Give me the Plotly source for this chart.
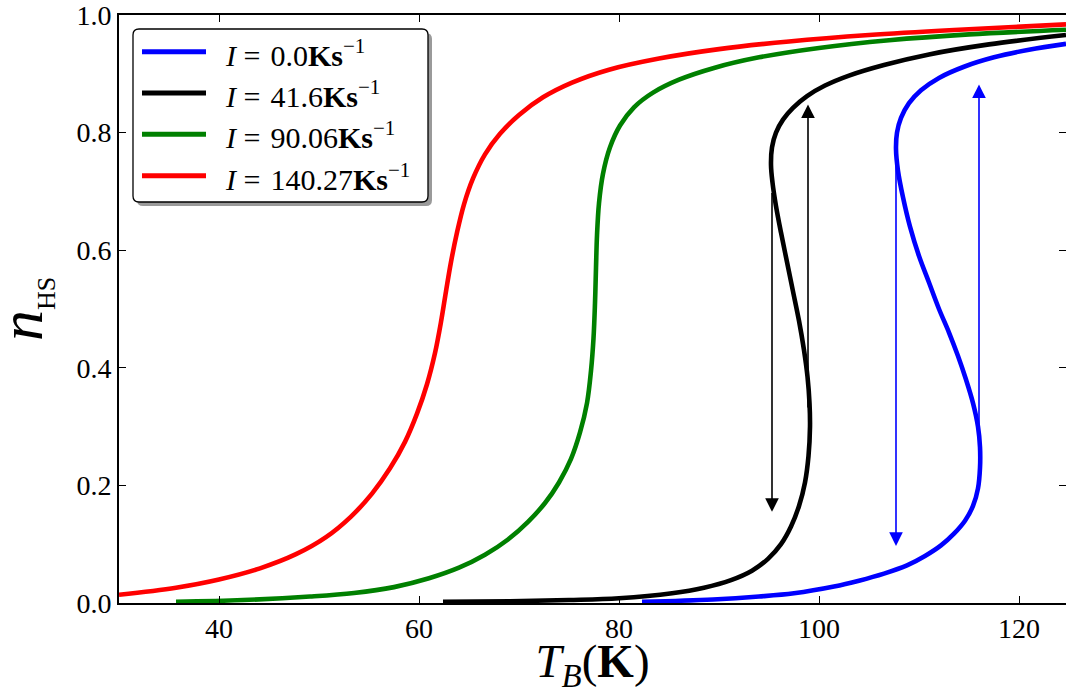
import plotly.graph_objects as go

# ---- data ----
T_blue = [82.3, 89.4, 94.0, 97.5, 101.5, 104.0, 106.5, 108.8, 110.6, 112.2, 113.5, 114.6, 115.4,
          115.9, 116.1, 116.1, 115.9, 115.4, 114.7, 113.9, 113.0, 112.0, 111.0, 110.0, 109.1,
          108.4, 107.9, 107.7, 107.8, 108.2, 109.0, 110.2, 112.0, 114.5, 117.5, 121.0, 124.7]
n_blue = [0.002, 0.006, 0.011, 0.0165, 0.028, 0.038, 0.050, 0.064, 0.080, 0.098, 0.118, 0.140,
          0.165, 0.195, 0.230, 0.265, 0.300, 0.340, 0.380, 0.420, 0.460, 0.500, 0.545, 0.590,
          0.640, 0.690, 0.735, 0.772, 0.800, 0.825, 0.850, 0.872, 0.893, 0.912, 0.928, 0.941,
          0.951]

T_black = [62.4, 69.1, 75.0, 80.0, 85.3, 88.5, 91.2, 93.3, 94.9, 96.2, 97.2, 98.0, 98.6, 98.95,
           99.1, 99.05, 98.85, 98.5, 98.0, 97.4, 96.8, 96.2, 95.7, 95.35, 95.2, 95.3, 95.7, 96.4,
           97.4, 98.8, 100.6, 103.0, 106.5, 111.0, 117.0, 124.7]
n_black = [0.002, 0.003, 0.005, 0.008, 0.0165, 0.026, 0.039, 0.055, 0.075, 0.100, 0.130, 0.165,
           0.205, 0.250, 0.300, 0.340, 0.385, 0.430, 0.480, 0.530, 0.580, 0.630, 0.675, 0.715,
           0.745, 0.775, 0.800, 0.822, 0.842, 0.862, 0.880, 0.897, 0.915, 0.933, 0.950, 0.966]

T_green = [35.7, 42.4, 49.1, 53.5, 57.5, 61.0, 64.0, 66.6, 68.9, 70.9, 72.6, 74.0, 75.2, 76.1,
           76.8, 77.2, 77.45, 77.6, 77.7, 77.8, 78.0, 78.4, 79.1, 80.1, 81.5, 83.4, 86.0, 89.5,
           94.0, 100.0, 107.0, 115.0, 124.7]
n_green = [0.002, 0.005, 0.011, 0.017, 0.027, 0.042, 0.060, 0.082, 0.108, 0.138, 0.170, 0.205,
           0.245, 0.290, 0.340, 0.395, 0.450, 0.510, 0.570, 0.625, 0.680, 0.730, 0.775, 0.812,
           0.843, 0.868, 0.890, 0.910, 0.928, 0.944, 0.957, 0.967, 0.975]

T_red = [30.0, 35.7, 40.0, 44.1, 47.7, 50.7, 53.2, 55.3, 57.1, 58.6, 59.8, 60.8, 61.6, 62.2,
         62.7, 63.2, 63.8, 64.5, 65.4, 66.6, 68.1, 70.0, 72.4, 75.3, 79.0, 84.0, 90.0, 97.0,
         105.0, 114.0, 124.7]
n_red = [0.014, 0.026, 0.040, 0.059, 0.083, 0.112, 0.147, 0.186, 0.229, 0.274, 0.322, 0.372,
         0.425, 0.478, 0.530, 0.580, 0.630, 0.678, 0.722, 0.763, 0.798, 0.830, 0.860, 0.885,
         0.907, 0.926, 0.942, 0.955, 0.966, 0.975, 0.984]

series_names = ["<i>I</i>\u2005=\u20040.0<b>Ks</b><sup>−1</sup>",
                "<i>I</i>\u2005=\u200441.6<b>Ks</b><sup>−1</sup>",
                "<i>I</i>\u2005=\u200490.06<b>Ks</b><sup>−1</sup>",
                "<i>I</i>\u2005=\u2004140.27<b>Ks</b><sup>−1</sup>"]
series_colors = ["#0000ff", "#000000", "#008000", "#ff0000"]

# hysteresis jump arrows: T position, start n, end n, colour
arrow_T = [95.3, 98.9, 107.7, 116.0]
arrow_from = [0.70, 0.33, 0.77, 0.27]
arrow_to = [0.155, 0.848, 0.097, 0.882]
arrow_colors = ["#000000", "#000000", "#0000ff", "#0000ff"]

x_ticks = [40, 60, 80, 100, 120]
y_ticks = [0.0, 0.2, 0.4, 0.6, 0.8, 1.0]
y_ticklabels = ["0.0", "0.2", "0.4", "0.6", "0.8", "1.0"]

FONT = "Liberation Serif"
W, H = 1066, 694
ML, MR, MT, MB = 119, 0, 15, 91
PW, PH = W - ML - MR, H - MT - MB

fig = go.Figure()
all_T = [T_blue, T_black, T_green, T_red]
all_n = [n_blue, n_black, n_green, n_red]
for T, n, nm, c in zip(all_T, all_n, series_names, series_colors):
    fig.add_trace(go.Scatter(x=T, y=n, mode="lines", name=nm, showlegend=False,
                             line=dict(color=c, width=4.6, shape="spline", smoothing=1.0),
                             hoverinfo="skip"))

# arrows
for t, a, b, c in zip(arrow_T, arrow_from, arrow_to, arrow_colors):
    fig.add_annotation(x=t, y=b, ax=t, ay=a, xref="x", yref="y", axref="x", ayref="y",
                       text="", showarrow=True, arrowhead=2, arrowsize=1.7, arrowwidth=1.6,
                       arrowcolor=c, standoff=0)

# ---- manual legend (rounded box with shadow) ----
def px2paper(px, py):
    return (px - ML) / PW, (H - MB - py) / PH

def rounded_path(x0, y0, x1, y1, r):
    def P(px, py):
        X, Y = px2paper(px, py)
        return f"{X:.5f},{Y:.5f}"
    return (f"M{P(x0 + r, y0)} L{P(x1 - r, y0)} Q{P(x1, y0)} {P(x1, y0 + r)} "
            f"L{P(x1, y1 - r)} Q{P(x1, y1)} {P(x1 - r, y1)} L{P(x0 + r, y1)} "
            f"Q{P(x0, y1)} {P(x0, y1 - r)} L{P(x0, y0 + r)} Q{P(x0, y0)} {P(x0 + r, y0)} Z")

bx0, by0, bx1, by1 = 133, 29, 428, 202
fig.add_shape(type="path", xref="paper", yref="paper",
              path=rounded_path(bx0 + 4, by0 + 4, bx1 + 4, by1 + 4, 6),
              fillcolor="#9a9a9a", line=dict(width=0), layer="above")
fig.add_shape(type="path", xref="paper", yref="paper",
              path=rounded_path(bx0, by0, bx1, by1, 6),
              fillcolor="white", line=dict(color="black", width=1.3), layer="above")
row_y = [51.7, 93.0, 134.3, 175.7]
for ry, nm, c in zip(row_y, series_names, series_colors):
    xa, ya = px2paper(142, ry)
    xb, _ = px2paper(206, ry)
    fig.add_shape(type="line", xref="paper", yref="paper", x0=xa, x1=xb, y0=ya, y1=ya,
                  line=dict(color=c, width=5), layer="above")
    xt, yt = px2paper(223, ry + 1)
    fig.add_annotation(x=xt, y=yt, xref="paper", yref="paper", text=nm, showarrow=False,
                       xanchor="left", yanchor="middle",
                       font=dict(family=FONT, size=30, color="black"))

# y axis title (rotated) placed explicitly
ytx, yty = px2paper(24, 309)
fig.add_annotation(x=ytx, y=yty, xref="paper", yref="paper", showarrow=False,
                   text="<i>n</i><sub><span style='font-size:26px'>HS</span></sub>",
                   textangle=-90, xanchor="center", yanchor="middle",
                   font=dict(family=FONT, size=62, color="black"))

axis_common = dict(showline=True, linecolor="black", linewidth=1.6, mirror="allticks",
                   ticks="inside", ticklen=7, tickwidth=1, tickcolor="black",
                   showgrid=False, zeroline=False, ticklabeloverflow="allow",
                   tickfont=dict(family=FONT, size=28, color="black"))

fig.update_layout(
    width=W, height=H,
    margin=dict(l=ML, r=MR, t=MT, b=MB, autoexpand=False),
    paper_bgcolor="white", plot_bgcolor="white",
    xaxis=dict(range=[30, 124.7], tickvals=x_ticks, ticktext=[str(v) for v in x_ticks],
               title=dict(text="<i>T</i><sub><i>B</i></sub>(<b>K</b>)",
                          font=dict(family=FONT, size=47, color="black"), standoff=0),
               automargin=False, **axis_common),
    yaxis=dict(range=[0, 1.0], tickvals=y_ticks, ticktext=y_ticklabels,
               automargin=False, **axis_common),
    showlegend=False,
)

fig.write_html("out.html", config={"displayModeBar": False},
               post_script="document.body.style.margin='0px';")
